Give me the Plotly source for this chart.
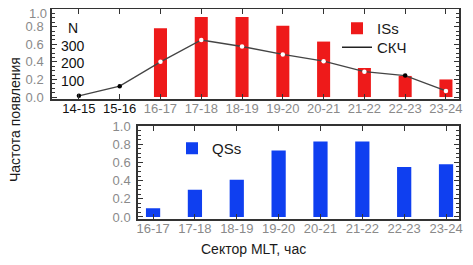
import plotly.graph_objects as go

# ---- data ----
top_categories = ["14-15", "15-16", "16-17", "17-18", "18-19", "19-20",
                  "20-21", "21-22", "22-23", "23-24"]
iss_freq = [None, None, 0.78, 0.91, 0.91, 0.81, 0.63, 0.33, 0.24, 0.20]
skch_n = [7, 62, 200, 324, 287, 242, 204, 144, 122, 35]
n_scale = 500.0  # N value that corresponds to frequency 1.0
n_tick_labels = [100, 200, 300]

bottom_categories = ["16-17", "17-18", "18-19", "19-20", "20-21",
                     "21-22", "22-23", "23-24"]
qss_freq = [0.095, 0.30, 0.41, 0.73, 0.83, 0.83, 0.55, 0.58]

y_ticks = [0.0, 0.2, 0.4, 0.6, 0.8, 1.0]

# ---- style ----
RED = "#ee1a1a"
BLUE = "#0f3ff0"
GRAY = "#8a8a8a"
AX = "#333333"
FONT = "Liberation Sans, Arial, sans-serif"

# page is offset by the browser's default 8px body margin
OFF = 8
W, H = 473 - 2 * OFF, 265 - 2 * OFF


def fx(p):
    return (p - OFF) / W


def fy(p):
    return 1 - (p - OFF) / H


top_x = list(range(len(top_categories)))
bot_x = list(range(len(bottom_categories)))

marker_cols = []
for f, n in zip(iss_freq, skch_n):
    if f is not None and n / n_scale < f - 0.02:
        marker_cols.append("white")
    else:
        marker_cols.append("black")

fig = go.Figure()
fig.add_trace(go.Bar(x=top_x, y=iss_freq, width=0.32, marker_color=RED,
                     marker_line_width=0, name="ISs", xaxis="x", yaxis="y",
                     legend="legend"))
fig.add_trace(go.Scatter(x=top_x, y=[n / n_scale for n in skch_n],
                         mode="lines+markers", name="СКЧ", showlegend=False,
                         line=dict(color="#444444", width=1.3),
                         marker=dict(size=4.5, color=marker_cols,
                                     line=dict(width=0)),
                         xaxis="x", yaxis="y"))
# legend-only entry for the line
fig.add_trace(go.Scatter(x=[None], y=[None], mode="lines", name="СКЧ",
                         line=dict(color="#222222", width=1.5),
                         xaxis="x", yaxis="y", legend="legend3"))
fig.add_trace(go.Bar(x=bot_x, y=qss_freq, width=0.34, marker_color=BLUE,
                     marker_line_width=0, name="QSs", xaxis="x2", yaxis="y2",
                     legend="legend2"))

top_ticktext = []
for i, c in enumerate(top_categories):
    col = "#111111" if iss_freq[i] is None else GRAY
    top_ticktext.append(f"<span style='color:{col}'>{c}</span>")

# the "1.0" of the upper panel is drawn as an annotation (below the edge)
top_y_ticktext = ["" if v == 1.0 else f"{v:.1f}" for v in y_ticks]

axis_common = dict(showline=True, linecolor=AX, linewidth=1.5, mirror="ticks",
                   ticks="inside", tickcolor=AX, showgrid=False, zeroline=False,
                   automargin=False)

legend_common = dict(xanchor="left", yanchor="top", bgcolor="rgba(0,0,0,0)",
                     font=dict(size=15, color="#1a1a1a"))

fig.update_layout(
    width=W, height=H,
    margin=dict(l=0, r=0, t=0, b=0),
    paper_bgcolor="white", plot_bgcolor="white",
    font=dict(family=FONT, size=13, color=GRAY),
    barmode="overlay",
    xaxis=dict(domain=[fx(52), fx(459)], anchor="y",
               range=[-0.66, 9.32], tickvals=top_x, ticktext=top_ticktext,
               ticklen=5, ticklabelstandoff=-3,
               tickfont=dict(size=13, color=GRAY), **axis_common),
    yaxis=dict(domain=[fy(99), fy(9)], anchor="x",
               range=[-0.022, 1.0], tickvals=y_ticks, ticktext=top_y_ticktext,
               ticklen=5, tickfont=dict(size=13, color=GRAY),
               ticklabelstandoff=4,
               minor=dict(dtick=0.05, ticklen=3, ticks="inside", tickcolor=AX),
               **axis_common),
    xaxis2=dict(domain=[fx(138), fx(459)], anchor="y2",
                range=[-0.36, 7.31], tickvals=bot_x, ticktext=bottom_categories,
                ticklen=5, ticklabelstandoff=-3,
                tickfont=dict(size=13, color=GRAY), **axis_common),
    yaxis2=dict(domain=[fy(218.7), fy(126)], anchor="x2",
                range=[-0.019, 1.0], tickvals=y_ticks, tickformat=".1f",
                ticklen=5, tickfont=dict(size=13, color=GRAY),
                ticklabelstandoff=3,
                minor=dict(dtick=0.05, ticklen=3, ticks="inside", tickcolor=AX),
                **axis_common),
    legend=dict(x=fx(337), y=fy(12), **legend_common),
    legend3=dict(x=fx(337), y=fy(31), **legend_common),
    legend2=dict(x=fx(172), y=fy(132), **legend_common),
    showlegend=True,
)

# upper-panel "1.0" tick label
fig.add_annotation(x=0, y=1.0, xref="x domain", yref="y", text="1.0",
                   xanchor="right", yanchor="middle", xshift=-4, yshift=-4,
                   height=9, borderpad=0, valign="middle",
                   showarrow=False, font=dict(size=13, color=GRAY))

# N axis labels drawn inside the top panel
fig.add_annotation(x=0.052, y=0.78, xref="x domain", yref="y", text="N",
                   xanchor="center", yanchor="middle",
                   showarrow=False, font=dict(size=14, color="#111111"))
for n in n_tick_labels:
    fig.add_annotation(x=0.052, y=n / n_scale - 0.015, xref="x domain", yref="y",
                       text=str(n), xanchor="center", yanchor="middle",
                       showarrow=False, font=dict(size=14, color="#111111"))

# shared y-axis title
fig.add_annotation(x=0, y=fy(120), xref="paper", yref="paper",
                   text="Частота появления", textangle=-90, showarrow=False,
                   xanchor="left", yanchor="middle", xshift=-3,
                   font=dict(size=14, color="#1a1a1a"))

# x-axis title of the lower panel
fig.add_annotation(x=fx(253), y=fy(249), xref="paper", yref="paper",
                   text="Сектор MLT, час", showarrow=False,
                   xanchor="center", yanchor="middle",
                   font=dict(size=14, color="#1a1a1a"))

fig.write_html("out.html")
